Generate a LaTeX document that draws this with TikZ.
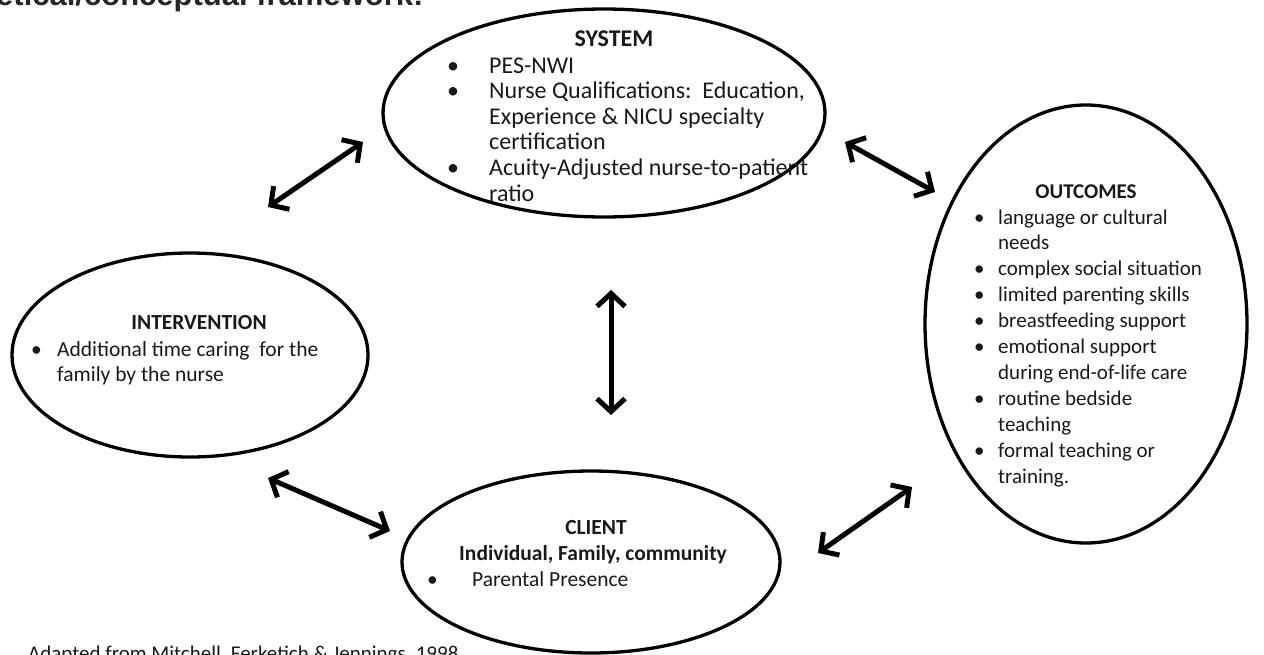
\documentclass[tikz,border=0pt]{standalone}
\usepackage{fontspec}
\setmainfont{Carlito}
\newfontfamily\titlefont{Liberation Sans}
\usetikzlibrary{shapes.geometric,arrows.meta}
\begin{document}
\begin{tikzpicture}[x=1pt,y=-1pt,
  oval/.style={ellipse, draw, line width=3.3pt, inner sep=0pt},
  txt/.style={inner sep=0pt, text=black!90, font=\fontsize{21.5}{25.6}\selectfont},
  head/.style={inner sep=0pt, text=black!90, font=\fontsize{21.5}{25.6}\selectfont\bfseries, anchor=base},
  list/.style={txt, anchor=base west},
  big/.style={font=\fontsize{24}{25.6}\selectfont},
  bigb/.style={font=\fontsize{24}{25.6}\selectfont\bfseries},
  dbl/.style={line width=5pt, {Straight Barb[length=13pt,width=28pt]}-{Straight Barb[length=13pt,width=28pt]}}
]
\useasboundingbox (0,0) rectangle (1264,654);

% ellipses
\node[oval, minimum width=442pt, minimum height=208pt] (system) at (604,113) {};
\node[oval, minimum width=356pt, minimum height=204pt] (interv) at (190,355) {};
\node[oval, minimum width=378pt, minimum height=182pt] (client) at (591,562) {};
\node[oval, minimum width=322pt, minimum height=438pt] (outc) at (1086,324) {};

% SYSTEM text
\node[head, bigb] (systemT) at (614,46) {SYSTEM};
\node[list, big] (systemL) at (447,73) {\begin{tabular}[t]{@{}p{42pt}@{}l@{}}
\textbullet & PES-NWI\\
\textbullet & Nurse Qualifications:\ \ Education,\\
 & Experience \& NICU specialty\\
 & certification\\
\textbullet & Acuity-Adjusted nurse-to-patient\\
 & ratio
\end{tabular}};

% INTERVENTION text
\node[head] (intervT) at (199,329) {INTERVENTION};
\node[list] (intervL) at (31,356) {\begin{tabular}[t]{@{}p{26pt}@{}l@{}}
\textbullet & Additional time caring\ \ for the\\
 & family by the nurse
\end{tabular}};

% CLIENT text
\node[head] (clientT) at (596,534) {CLIENT};
\node[head] (clientS) at (593,560) {Individual, Family, community};
\node[list] (clientL) at (427,586) {\begin{tabular}[t]{@{}p{45pt}@{}l@{}}
\textbullet & Parental Presence
\end{tabular}};

% OUTCOMES text
\node[head, font=\fontsize{21}{25.9}\selectfont\bfseries] (outcT) at (1086,198) {OUTCOMES};
\node[list, font=\fontsize{21}{25.9}\selectfont] (outcL) at (974,224) {\begin{tabular}[t]{@{}p{24pt}@{}l@{}}
\textbullet & language or cultural\\
 & needs\\
\textbullet & complex social situation\\
\textbullet & limited parenting skills\\
\textbullet & breastfeeding support\\
\textbullet & emotional support\\
 & during end-of-life care\\
\textbullet & routine bedside\\
 & teaching\\
\textbullet & formal teaching or\\
 & training.
\end{tabular}};

% title and source
\node[inner sep=0pt, anchor=base west, font=\titlefont\fontsize{31}{36}\selectfont\bfseries, text=black!85] (title) at (-4,5) {etical/conceptual framework:};
\node[inner sep=0pt, anchor=base west, font=\fontsize{21}{25.6}\selectfont, text=black!90] (source) at (28,660) {Adapted from Mitchell, Ferketich \& Jennings, 1998};

% arrows
\coordinate (a1s) at (268,207); \coordinate (a1e) at (363,142);
\coordinate (a2s) at (845,142); \coordinate (a2e) at (935,192);
\coordinate (a3s) at (611,290); \coordinate (a3e) at (611,415);
\coordinate (a4s) at (268,478); \coordinate (a4e) at (390,531);
\coordinate (a5s) at (912,487); \coordinate (a5e) at (818,553);
\draw[dbl] (a1s) -- (a1e);
\draw[dbl] (a2s) -- (a2e);
\draw[dbl] (a3s) -- (a3e);
\draw[dbl] (a4s) -- (a4e);
\draw[dbl] (a5s) -- (a5e);
\end{tikzpicture}
\end{document}
